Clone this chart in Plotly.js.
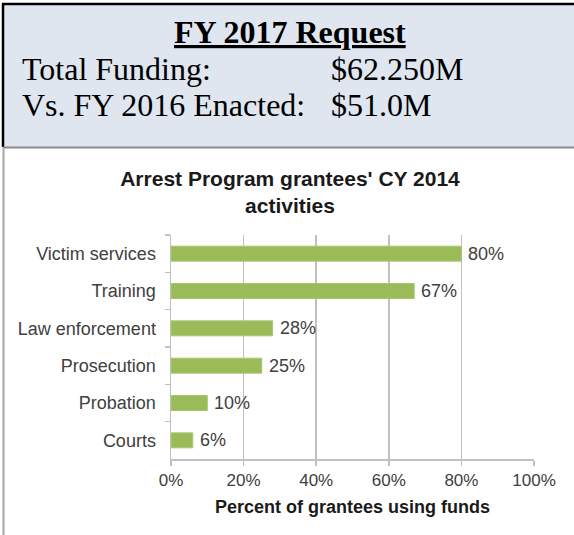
<!DOCTYPE html>
<html>
<head>
<meta charset="utf-8">
<script src="https://cdn.plot.ly/plotly-3.0.1.min.js"></script>
<style>
  html, body { margin: 0; padding: 0; background: #ffffff; }
  #chart { width: 574px; height: 535px; }
</style>
</head>
<body>
<div id="chart"></div>
<script>
// ---- data ----
const categories = ["Victim services", "Training", "Law enforcement", "Prosecution", "Probation", "Courts"];
const percentValues = [80, 67, 28, 25, 10, 6];
const xTickValues = [0, 20, 40, 60, 80, 100];
const headerTitle = "FY 2017 Request";
const headerLabels = ["Total Funding:", "Vs. FY 2016 Enacted:"];
const headerAmounts = ["$62.250M", "$51.0M"];
const chartTitle = "Arrest Program grantees' CY 2014<br>activities";
const xAxisTitle = "Percent of grantees using funds";

// ---- layout geometry (pixels) ----
const W = 574, H = 535;
const M = { l: 171, r: 40, t: 235, b: 76 };
const PW = W - M.l - M.r, PH = H - M.t - M.b;
const px = v => (v - M.l) / PW;           // pixel x -> paper x
const py = v => (H - M.b - v) / PH;       // pixel y -> paper y

const sans = "Liberation Sans, Arial, Helvetica, sans-serif";
const serif = "Liberation Serif, Times New Roman, Times, serif";

const shapes = [
  // header box background
  { type: "rect", xref: "paper", yref: "paper", x0: px(3), x1: px(590), y0: py(4), y1: py(147),
    fillcolor: "#dfe6ef", line: { width: 0 }, layer: "below" },
  // top black border
  { type: "line", xref: "paper", yref: "paper", x0: px(2), x1: px(590), y0: py(4), y1: py(4),
    line: { color: "#000000", width: 2.5 } },
  // left black border of header
  { type: "line", xref: "paper", yref: "paper", x0: px(3), x1: px(3), y0: py(3), y1: py(147),
    line: { color: "#000000", width: 2.5 } },
  // bottom gray border of header
  { type: "line", xref: "paper", yref: "paper", x0: px(3), x1: px(590), y0: py(147.5), y1: py(147.5),
    line: { color: "#8a8a8a", width: 2 } },
  // left gray border below header
  { type: "line", xref: "paper", yref: "paper", x0: px(3.5), x1: px(3.5), y0: py(148), y1: py(540),
    line: { color: "#a6a6a6", width: 2 } }
];

const annotations = [];
// header texts
annotations.push({ xref: "paper", yref: "paper", x: px(290), y: py(32), xanchor: "center", yanchor: "middle",
  text: "<b><u>" + headerTitle + "</u></b>", showarrow: false,
  font: { family: serif, size: 32, color: "#000000" } });
const headerRowsY = [69, 105];
headerLabels.forEach((lab, i) => {
  annotations.push({ xref: "paper", yref: "paper", x: px(20), y: py(headerRowsY[i]), xanchor: "left", yanchor: "middle",
    text: lab, showarrow: false, font: { family: serif, size: 32, color: "#000000" } });
  annotations.push({ xref: "paper", yref: "paper", x: px(329), y: py(headerRowsY[i]), xanchor: "left", yanchor: "middle",
    text: headerAmounts[i], showarrow: false, font: { family: serif, size: 32, color: "#000000" } });
});
// data labels
categories.forEach((c, i) => {
  annotations.push({ x: percentValues[i], y: c, xref: "x", yref: "y", xanchor: "left", yanchor: "middle",
    xshift: 5, text: percentValues[i] + "%", showarrow: false,
    font: { family: sans, size: 18, color: "#404040" } });
});

const trace = {
  type: "bar",
  orientation: "h",
  x: percentValues,
  y: categories,
  marker: { color: "#9bbb59", line: { color: "#a9c76f", width: 1 } },
  hoverinfo: "x+y"
};

const layout = {
  width: W, height: H,
  margin: M,
  paper_bgcolor: "#ffffff",
  plot_bgcolor: "#ffffff",
  showlegend: false,
  bargap: 0.6,
  title: {
    text: "<b>" + chartTitle + "</b>",
    xref: "container", yref: "container",
    x: 290 / W, y: 1 - 186 / H, xanchor: "center", yanchor: "middle",
    font: { family: sans, size: 21, color: "#1a1a1a" }
  },
  xaxis: {
    range: [0, 100],
    tickvals: xTickValues,
    ticktext: xTickValues.map(v => v + "%"),
    showgrid: true, gridcolor: "#c0c0c0", gridwidth: 1.5,
    zeroline: false,
    showline: true, linecolor: "#c0c0c0", linewidth: 1.5,
    ticks: "outside", ticklen: 5, tickcolor: "#c0c0c0", tickwidth: 1.5,
    tickfont: { family: sans, size: 17, color: "#404040" },
    title: { text: "<b>" + xAxisTitle + "</b>", standoff: 11,
      font: { family: sans, size: 18, color: "#1a1a1a" } },
    fixedrange: true
  },
  yaxis: {
    type: "category",
    categoryorder: "array", categoryarray: categories,
    autorange: "reversed",
    showgrid: false, zeroline: false,
    showline: true, linecolor: "#c0c0c0", linewidth: 1.5,
    ticks: "outside", tickson: "boundaries", ticklen: 5, tickcolor: "#c0c0c0", tickwidth: 1.5,
    ticklabelstandoff: 10,
    tickfont: { family: sans, size: 18, color: "#404040" },
    fixedrange: true
  },
  shapes: shapes,
  annotations: annotations
};

Plotly.newPlot("chart", [trace], layout, { displayModeBar: false, staticPlot: true });
</script>
</body>
</html>
